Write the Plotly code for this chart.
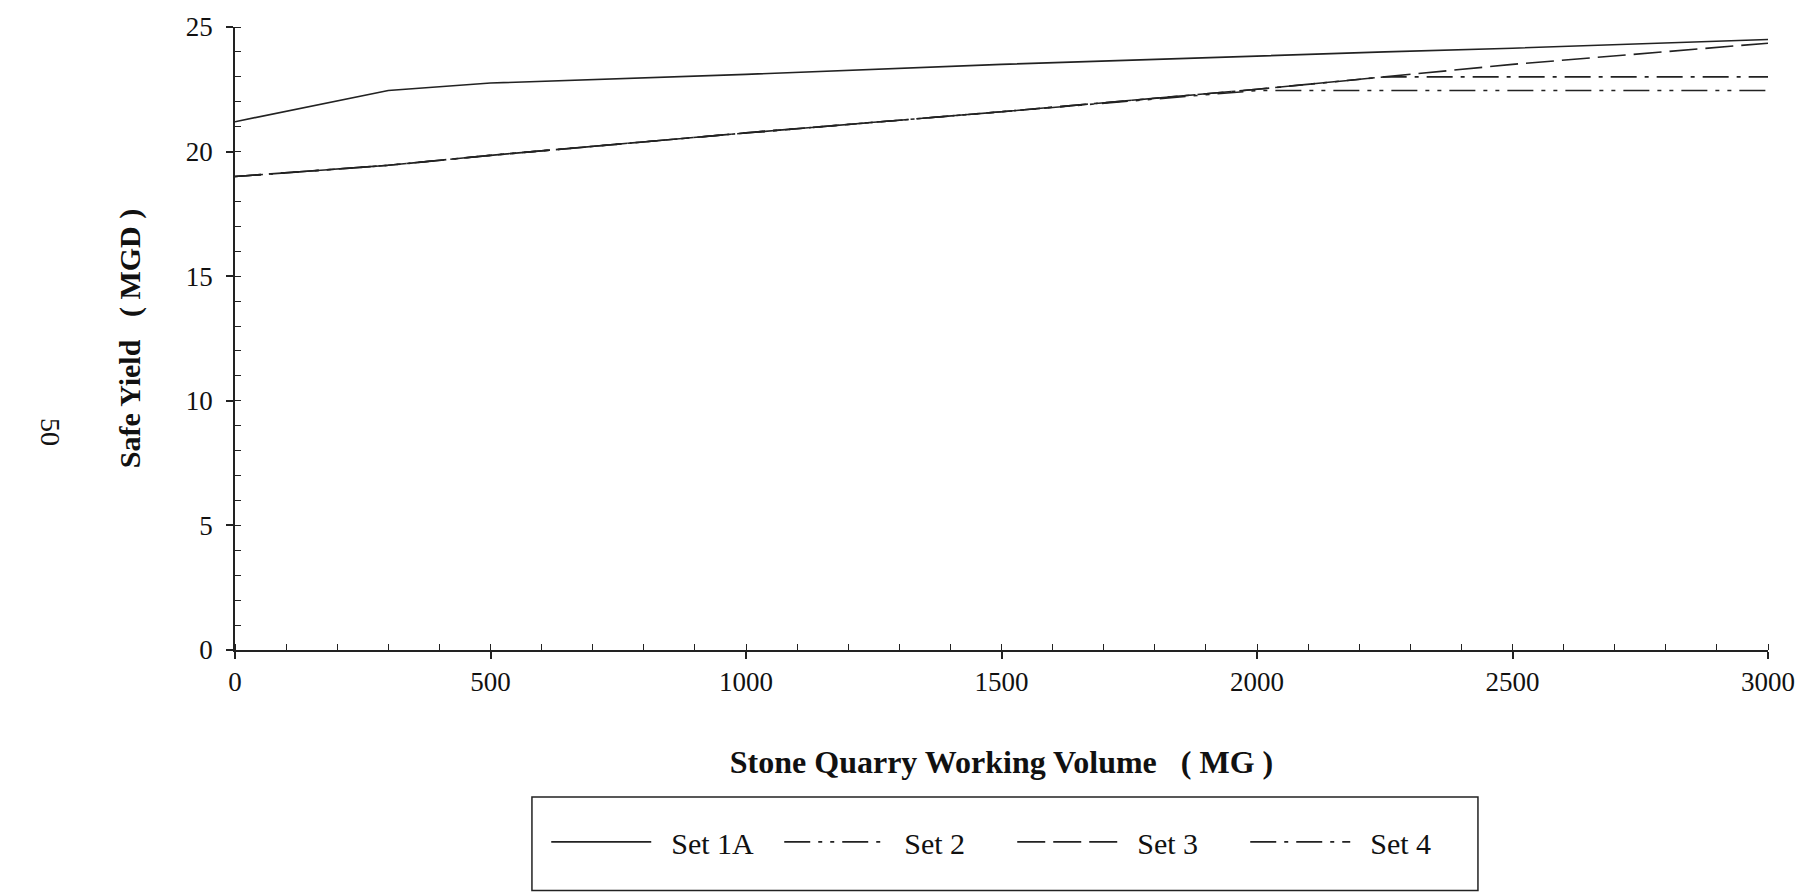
import plotly.graph_objects as go

# ---- data ----
volume_mg = [0, 300, 500, 1000, 1500, 2000, 2250, 2500, 3000]
set_1a = [21.2, 22.45, 22.75, 23.1, 23.5, 23.85, 24.0, 24.15, 24.5]
set_2 = [19.0, 19.45, 19.85, 20.75, 21.6, 22.45, 22.45, 22.45, 22.45]
set_3 = [19.0, 19.45, 19.85, 20.75, 21.6, 22.5, 23.0, 23.5, 24.35]
set_4 = [19.0, 19.45, 19.85, 20.75, 21.6, 22.5, 23.0, 23.0, 23.0]

series_names = ["Set 1A", "Set 2", "Set 3", "Set 4"]
x_ticks = [0, 500, 1000, 1500, 2000, 2500, 3000]
y_ticks = [0, 5, 10, 15, 20, 25]

FONT = "Liberation Serif"
INK = "#222222"
NB = "\u00a0"

styles = {
    "Set 1A": "solid",
    "Set 2": "26px,8px,4px,8px,4px,8px",
    "Set 3": "28px,8px",
    "Set 4": "26px,8px,4px,8px",
}

fig = go.Figure()
for name, vals in zip(series_names, [set_1a, set_2, set_3, set_4]):
    fig.add_trace(go.Scatter(
        x=volume_mg, y=vals, name=NB * 2 + name, mode="lines",
        line=dict(color=INK, width=1.6, dash=styles[name]),
    ))

axis_common = dict(
    showline=True, linecolor=INK, linewidth=1.5, showgrid=False, zeroline=False,
    tickfont=dict(family=FONT, size=27, color="#111"),
)

fig.update_layout(
    width=1814, height=893,
    paper_bgcolor="white", plot_bgcolor="white",
    margin=dict(l=235, r=46, t=23, b=243),
    font=dict(family=FONT, color="#111"),
    xaxis=dict(
        range=[0, 3000], tickvals=x_ticks, ticks="outside", ticklen=7, tickwidth=1.5,
        tickcolor=INK, ticklabelstandoff=0,
        minor=dict(dtick=100, ticks="inside", ticklen=6, tickcolor=INK, tickwidth=1.2),
        title=dict(text="<b>Stone Quarry Working Volume" + NB * 3 + "( MG )</b>",
                   font=dict(family=FONT, size=32, color="#111"), standoff=54),
        **axis_common,
    ),
    yaxis=dict(
        range=[0, 25], tickvals=y_ticks, ticks="outside", ticklen=7, tickwidth=1.5,
        tickcolor=INK, ticklabelstandoff=8,
        minor=dict(dtick=1, ticks="inside", ticklen=6, tickcolor=INK, tickwidth=1.2),
        title=dict(text="<b>Safe Yield" + NB * 3 + "( MGD )</b>",
                   font=dict(family=FONT, size=30, color="#111"), standoff=36),
        **axis_common,
    ),
    xaxis2=dict(overlaying="x", matches="x", anchor="y2", range=[0, 3000], tickvals=x_ticks,
                ticks="inside", ticklen=10, tickwidth=1.5, tickcolor=INK,
                showticklabels=False, showline=False, showgrid=False, zeroline=False, side="bottom"),
    yaxis2=dict(overlaying="y", matches="y", anchor="x2", range=[0, 25], tickvals=y_ticks,
                ticks="inside", ticklen=7, tickwidth=1.5, tickcolor=INK,
                showticklabels=False, showline=False, showgrid=False, zeroline=False, side="left"),
    showlegend=True,
    legend=dict(
        orientation="h", x=0.507, xanchor="center", y=-0.308, yanchor="middle",
        font=dict(family=FONT, size=30, color="#111"),
        itemwidth=100, entrywidth=118, entrywidthmode="pixels",
        bgcolor="rgba(0,0,0,0)", borderwidth=0,
    ),
    shapes=[dict(type="rect", xref="paper", yref="paper",
                 x0=0.1937, x1=0.8108, y0=-0.386, y1=-0.236,
                 line=dict(color=INK, width=1.5), fillcolor="rgba(0,0,0,0)")],
    annotations=[dict(text="50", xref="paper", yref="paper", x=(33 - 235) / 1533,
                      y=(650 - 430) / 627, showarrow=False, textangle=90,
                      font=dict(family=FONT, size=28, color="#111"))],
)

fig.write_html("out.html")
